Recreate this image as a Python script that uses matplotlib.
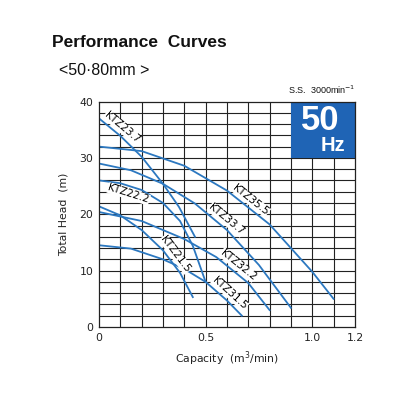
import matplotlib
matplotlib.use("Agg")
import numpy as np
import matplotlib.pyplot as plt
from matplotlib.patches import Rectangle

# -----------------------
# Curve data
# -----------------------
q_2237 = [0, 0.1, 0.2, 0.3, 0.375, 0.45]
h_2237 = [37, 33.9, 30.2, 25.4, 21.3, 16.0]

q_3555 = [0, 0.2, 0.4, 0.6, 0.8, 0.9, 1.0, 1.1]
h_3555 = [32, 31.2, 28.6, 24.2, 18.2, 14.0, 9.8, 5.0]

q_3337 = [0, 0.15, 0.3, 0.45, 0.6, 0.75, 0.9]
h_3337 = [29, 27.8, 25.4, 21.9, 17.2, 11.0, 3.4]

q_2222 = [0, 0.1, 0.2, 0.3, 0.38, 0.44, 0.5]
h_2222 = [26, 25.5, 24.3, 22.0, 18.8, 14.4, 8.0]

q_2115 = [0, 0.1, 0.2, 0.3, 0.38, 0.44]
h_2115 = [21.4, 19.8, 17.2, 13.6, 9.6, 5.3]

q_3222 = [0, 0.2, 0.4, 0.55, 0.7, 0.8]
h_3222 = [20.4, 18.8, 15.6, 12.4, 7.8, 3.0]

q_3115 = [0, 0.15, 0.3, 0.4, 0.5, 0.6, 0.67]
h_3115 = [14.5, 13.9, 12.0, 10.3, 8.0, 4.7, 2.0]

curves = [
    ("KTZ23.7", q_2237, h_2237),
    ("KTZ35.5", q_3555, h_3555),
    ("KTZ33.7", q_3337, h_3337),
    ("KTZ22.2", q_2222, h_2222),
    ("KTZ21.5", q_2115, h_2115),
    ("KTZ32.2", q_3222, h_3222),
    ("KTZ31.5", q_3115, h_3115),
]

# label anchor on the curve (capacity) and side: +1 above/right, -1 below
label_at = {
    "KTZ23.7": (0.085, 1),
    "KTZ35.5": (0.69, 1),
    "KTZ33.7": (0.575, 1),
    "KTZ22.2": (0.15, -1),
    "KTZ21.5": (0.33, 1),
    "KTZ32.2": (0.63, 1),
    "KTZ31.5": (0.59, 1),
}

x_ticks = [0, 0.5, 1.0, 1.2]
x_tick_labels = ["0", "0.5", "1.0", "1.2"]
y_ticks = [0, 10, 20, 30, 40]

line_color = "#2c78c0"
box_color = "#1f64b5"

# -----------------------
# Figure
# -----------------------
fig = plt.figure(figsize=(4.16, 4.16), dpi=100)
ax = fig.add_axes([0.238, 0.214, 0.615, 0.542])

ax.set_xlim(0, 1.2)
ax.set_ylim(0, 40)

# grid
for gx in [i * 0.1 for i in range(1, 12)]:
    ax.axvline(gx, color="#222222", lw=0.8, zorder=1)
for gy in range(2, 40, 2):
    ax.axhline(gy, color="#222222", lw=0.8, zorder=1)

fig.canvas.draw()
for name, q, h in curves:
    ax.plot(q, h, color=line_color, lw=1.3, zorder=3,
            solid_joinstyle="round")
    lx, side = label_at[name]
    ly = np.interp(lx, q, h)
    # local slope in display coords for the text angle
    p0 = ax.transData.transform((lx - 0.02, np.interp(lx - 0.02, q, h)))
    p1 = ax.transData.transform((lx + 0.02, np.interp(lx + 0.02, q, h)))
    ang = np.arctan2(p1[1] - p0[1], p1[0] - p0[0])
    d = 5.5 * side
    off = (-np.sin(ang) * d, np.cos(ang) * d)
    ax.annotate(name, (lx, ly), xytext=off, textcoords="offset points",
                rotation=np.degrees(ang), rotation_mode="anchor",
                ha="center", va="center", fontsize=7.5, color="black",
                zorder=4, bbox=dict(fc="white", ec="none", pad=0.3))

# 50 Hz box
ax.add_patch(Rectangle((0.9, 30), 0.3, 10, fc=box_color, ec="none", zorder=5))
ax.text(1.038, 36.7, "50", color="white", fontsize=25, fontweight="bold",
        family="Liberation Sans", ha="center", va="center", zorder=6)
ax.text(1.095, 32.2, "Hz", color="white", fontsize=14.5, fontweight="bold",
        family="Liberation Sans", ha="center", va="center", zorder=6)

for sp in ax.spines.values():
    sp.set_color("#222222")
    sp.set_linewidth(0.9)
    sp.set_zorder(7)

ax.set_xticks(x_ticks)
ax.set_xticklabels(x_tick_labels)
ax.set_yticks(y_ticks)
ax.tick_params(length=0, labelsize=7.8, pad=4, colors="#222222")

ax.set_xlabel("Capacity  (m$^3$/min)", fontsize=7.8, labelpad=5, color="#222222")
ax.set_ylabel("Total Head  (m)", fontsize=7.8, labelpad=8, color="#222222")

fig.text(0.125, 0.898, "Performance  Curves", fontsize=12.5, fontweight="bold",
         family="Liberation Sans", ha="left", va="center", color="#111111")
fig.text(0.142, 0.83, "<50·80mm >", fontsize=11.5, family="Liberation Sans",
         ha="left", va="center", color="#111111")
fig.text(0.855, 0.783, "S.S.  3000min$^{-1}$", fontsize=6.5,
         family="Liberation Sans", ha="right", va="center", color="#111111")

fig.savefig("out.png", dpi=100)
